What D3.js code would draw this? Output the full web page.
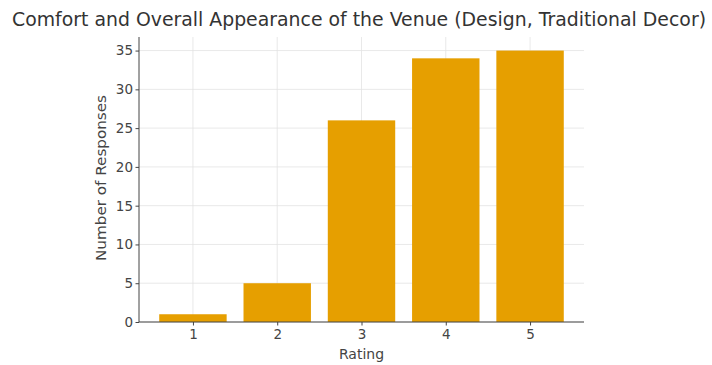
<!DOCTYPE html>
<html>
<head>
<meta charset="utf-8">
<script src="https://cdn.jsdelivr.net/npm/d3@7"></script>
<style>
  html, body { margin: 0; padding: 0; background: #fff; }
  svg { display: block; font-family: "DejaVu Sans", sans-serif; }
</style>
</head>
<body>
<svg id="chart" width="712" height="365"></svg>
<script>
// Ratings and how many responses each received
const ratings = [1, 2, 3, 4, 5];
const responses = [1, 5, 26, 34, 35];
const yTicks = [0, 5, 10, 15, 20, 25, 30, 35];

const titleText = "Comfort and Overall Appearance of the Venue (Design, Traditional Decor)";
const xLabel = "Rating";
const yLabel = "Number of Responses";

const margin = { left: 139, right: 128, top: 37, bottom: 43 };
const W = 712, H = 365;
const innerW = W - margin.left - margin.right;
const innerH = H - margin.top - margin.bottom;

const svg = d3.select("#chart");
const g = svg.append("g").attr("transform", `translate(${margin.left},${margin.top})`);

const barWidth = 0.8;
const x = d3.scaleLinear().domain([0.36, 5.64]).range([0, innerW]);
const y = d3.scaleLinear().domain([0, 36.75]).range([innerH, 0]);

// grid
g.append("g").selectAll("line").data(yTicks).join("line")
  .attr("x1", 0).attr("x2", innerW)
  .attr("y1", d => y(d)).attr("y2", d => y(d))
  .attr("stroke", "#e3e3e3").attr("stroke-width", 0.8);
g.append("g").selectAll("line").data(ratings).join("line")
  .attr("x1", d => x(d)).attr("x2", d => x(d))
  .attr("y1", 0).attr("y2", innerH)
  .attr("stroke", "#e3e3e3").attr("stroke-width", 0.8);

// bars
g.append("g").selectAll("rect").data(ratings).join("rect")
  .attr("x", d => x(d - barWidth / 2))
  .attr("width", d => x(d + barWidth / 2) - x(d - barWidth / 2))
  .attr("y", (d, i) => y(responses[i]))
  .attr("height", (d, i) => y(0) - y(responses[i]))
  .attr("fill", "#E69F00");

// axes
const xAxis = d3.axisBottom(x).tickValues(ratings).tickFormat(d3.format("d")).tickSize(3.5).tickPadding(3.5);
const yAxis = d3.axisLeft(y).tickValues(yTicks).tickSize(3.5).tickPadding(2.5);

const gx = g.append("g").attr("transform", `translate(0,${innerH})`).call(xAxis);
const gy = g.append("g").call(yAxis);
[gx, gy].forEach(a => {
  a.select(".domain").attr("stroke", "#444").attr("stroke-width", 1);
  a.selectAll(".tick line").attr("stroke", "#444");
  a.selectAll(".tick text").attr("fill", "#444").attr("font-size", 13.5)
    .attr("font-family", "DejaVu Sans, sans-serif");
});
gx.select(".domain").attr("d", `M0,0H${innerW}`);
gy.select(".domain").attr("d", `M0,${innerH}V0`);

// labels
svg.append("text")
  .attr("x", margin.left + innerW / 2).attr("y", 359)
  .attr("text-anchor", "middle").attr("font-size", 14).attr("fill", "#444")
  .text(xLabel);

svg.append("text")
  .attr("transform", `translate(106,178) rotate(-90)`)
  .attr("text-anchor", "middle").attr("font-size", 14).attr("fill", "#444")
  .attr("textLength", 166).attr("lengthAdjust", "spacingAndGlyphs")
  .text(yLabel);

svg.append("text")
  .attr("x", 359).attr("y", 26)
  .attr("text-anchor", "middle").attr("font-size", 19).attr("fill", "#333")
  .attr("textLength", 694).attr("lengthAdjust", "spacingAndGlyphs")
  .text(titleText);
</script>
</body>
</html>
